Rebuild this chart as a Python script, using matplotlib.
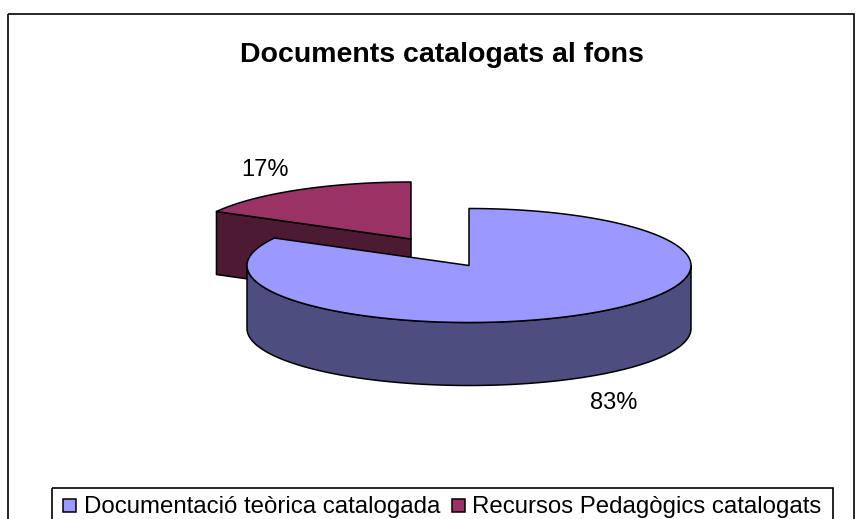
import numpy as np
import matplotlib
matplotlib.use("Agg")
import matplotlib.pyplot as plt
from matplotlib.patches import Polygon, Rectangle

categories = ["Documentació teòrica catalogada", "Recursos Pedagògics catalogats"]
values = [83, 17]
value_labels = ["83%", "17%"]
title = "Documents catalogats al fons"
top_colors = ["#9999FF", "#993366"]
side_colors = ["#4D4D80", "#4D1A33"]

W, H = 861, 519
plt.rcParams['font.family'] = ['Liberation Sans', 'DejaVu Sans']
fig = plt.figure(figsize=(W / 100, H / 100), dpi=100)
ax = fig.add_axes([0, 0, 1, 1])
ax.set_xlim(0, W)
ax.set_ylim(H, 0)
ax.axis("off")

RX, RY, DEPTH = 222, 57, 63
EDGE = dict(edgecolor="black", linewidth=1.1, joinstyle="round")


def pt(cx, cy, theta):
    return cx + RX * np.sin(theta), cy - RY * np.cos(theta)


def draw_slice(cx, cy, t0, t1, top, side):
    # outer wall: only the part facing the viewer (pi/2 .. 3pi/2)
    a, b = max(t0, np.pi / 2), min(t1, 3 * np.pi / 2)
    if b > a:
        th = np.linspace(a, b, 200)
        x, y = pt(cx, cy, th)
        ax.add_patch(Polygon(np.r_[np.c_[x, y], np.c_[x, y + DEPTH][::-1]], facecolor=side, **EDGE))
    th = np.linspace(t0, t1, 300)
    x, y = pt(cx, cy, th)
    return np.r_[[[cx, cy]], np.c_[x, y]]


total = sum(values)
t_split = 2 * np.pi * values[0] / total

# Recursos slice (behind): cut wall seen from the front
c2 = (411, 239)
x0, y0 = pt(*c2, t_split)
ax.add_patch(Polygon([(x0, y0), c2, (c2[0], c2[1] + DEPTH), (x0, y0 + DEPTH)], facecolor=side_colors[1], **EDGE))
top2 = draw_slice(*c2, t_split, 2 * np.pi, top_colors[1], side_colors[1])
ax.add_patch(Polygon(top2, facecolor=top_colors[1], **EDGE))

# Documentació slice (front)
c1 = (469, 265.5)
top1 = draw_slice(*c1, 0, t_split, top_colors[0], side_colors[0])
ax.add_patch(Polygon(top1, facecolor=top_colors[0], **EDGE))

# Chart frame
ax.add_patch(Rectangle((7.5, 13.5), 846, 520, fill=False, edgecolor="black", linewidth=1.2, clip_on=True))

ax.text(442, 55, title, fontsize=20.5, fontweight="bold", ha="center", va="center")
ax.text(614, 403, value_labels[0], fontsize=17, ha="center", va="center")
ax.text(265, 170, value_labels[1], fontsize=17, ha="center", va="center")

# Legend
ax.add_patch(Rectangle((51.5, 487.5), 781, 40, fill=False, edgecolor="black", linewidth=1.2))
lx = [63, 452]
tx = [84, 472]
for i, c in enumerate(categories):
    ax.add_patch(Rectangle((lx[i], 499), 13, 13, facecolor=top_colors[i], edgecolor="black", linewidth=1.1))
    ax.text(tx[i], 507, c, fontsize=17.3, ha="left", va="center")

fig.savefig("out.png", dpi=100, facecolor="white")
